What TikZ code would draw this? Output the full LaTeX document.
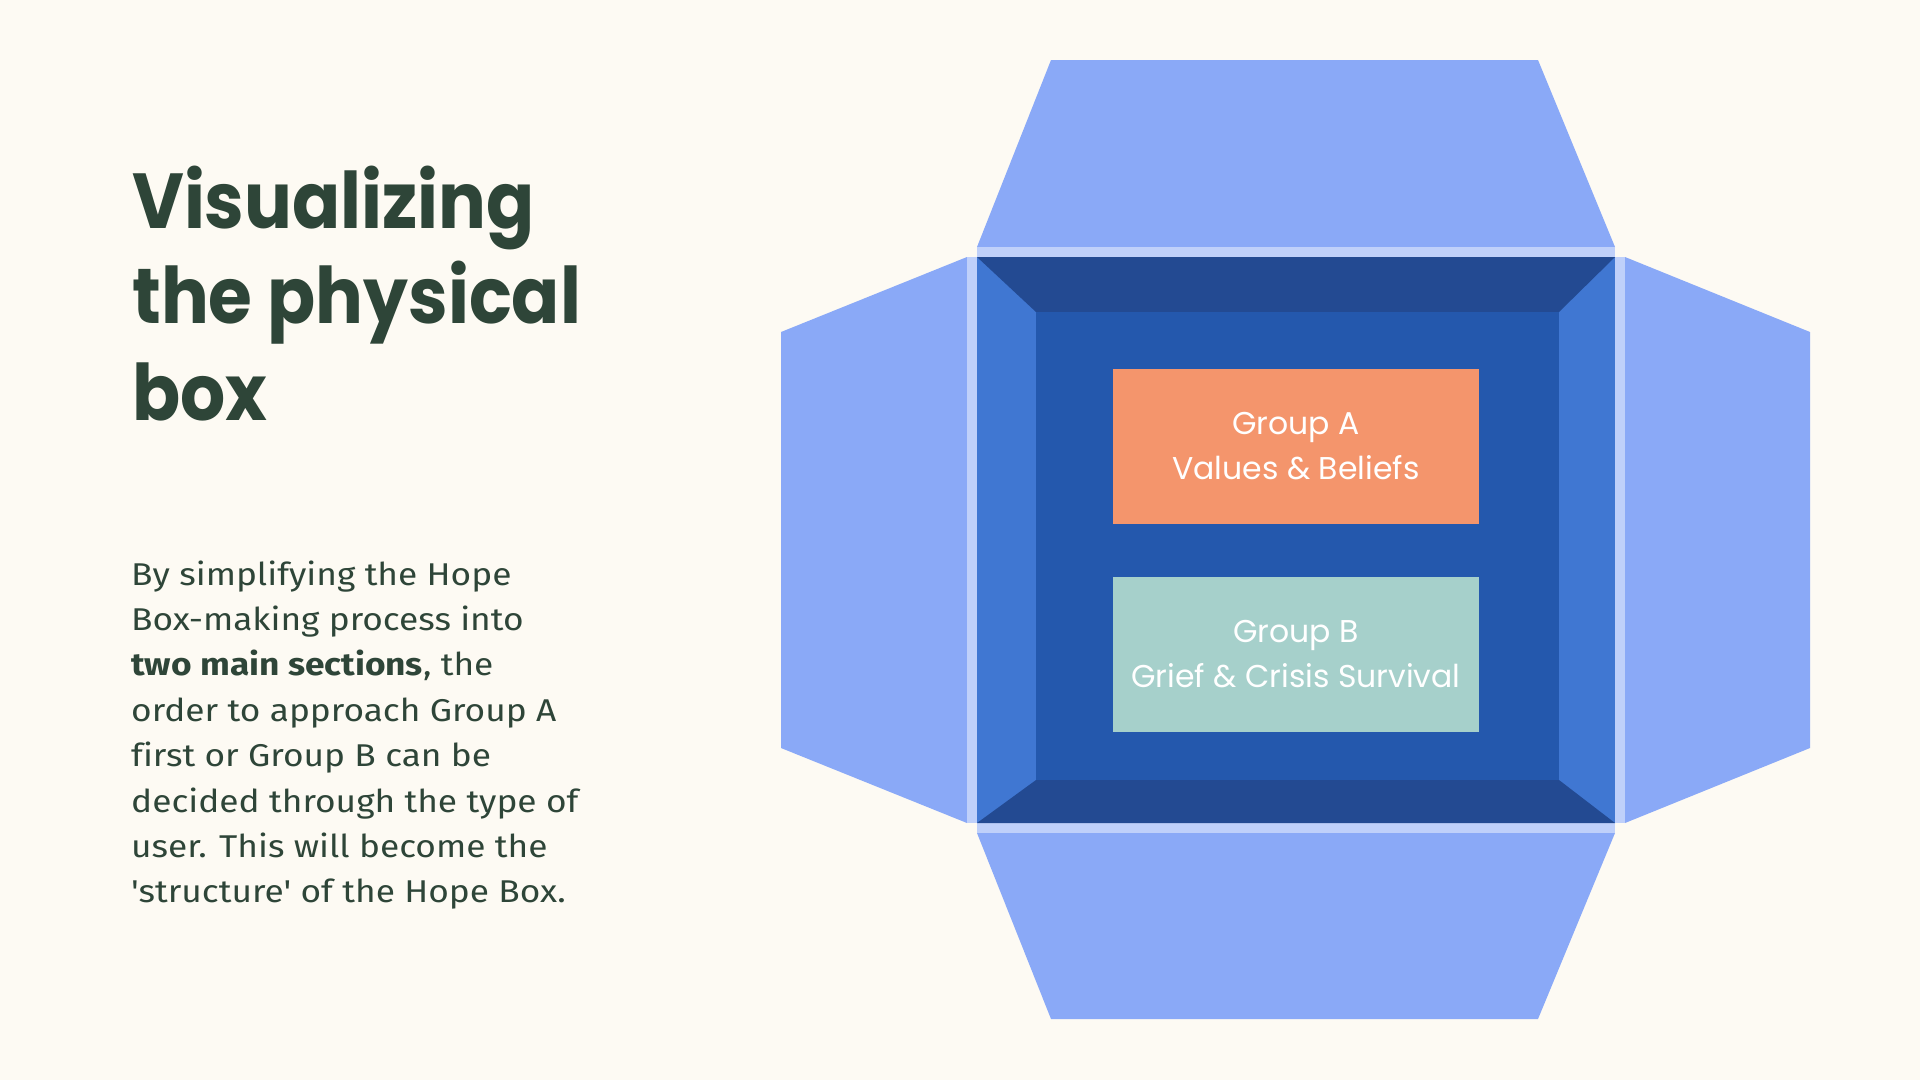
\documentclass[tikz,border=0pt]{standalone}
\usepackage{fontspec}
\setmainfont{Fira Sans}
\newfontfamily\titlefont{Poppins}[UprightFont=* Bold, FakeStretch=0.91]
\newfontfamily\boxfont{Poppins}
\newfontfamily\bodyfont{Fira Sans}[FakeStretch=1.12, Ligatures=NoCommon]
\definecolor{bgc}{HTML}{FDFAF3}
\definecolor{flapc}{HTML}{8AA9F7}
\definecolor{stripc}{HTML}{BFD0FA}
\definecolor{navyc}{HTML}{234A92}
\definecolor{sidec}{HTML}{4077D2}
\definecolor{innerc}{HTML}{2458AD}
\definecolor{orangec}{HTML}{F4956C}
\definecolor{tealc}{HTML}{A6D0CB}
\definecolor{inkc}{HTML}{2E4538}
\tikzset{
  flap/.style={fill=flapc},
  strip/.style={fill=stripc},
  grp/.style={minimum width=366pt, minimum height=155pt, inner sep=0pt, align=center,
    text=white, font=\boxfont\fontsize{31.5}{45}\selectfont},
  titleline/.style={anchor=base west, inner sep=0pt, text=inkc, font=\titlefont\fontsize{78}{96}\selectfont},
  bodyline/.style={anchor=base west, inner sep=0pt, text=inkc, font=\bodyfont\fontsize{31.5}{45}\selectfont}
}
\begin{document}
\begin{tikzpicture}[x=1pt,y=-1pt]
\useasboundingbox (0,0) rectangle (1920,1080);
\fill[bgc] (0,0) rectangle (1920,1080);
% flaps
\fill[flap] (977,247) -- (1051,60) -- (1538,60) -- (1615,247) -- cycle;
\fill[flap] (977,833) -- (1051,1019) -- (1538,1019) -- (1615,833) -- cycle;
\fill[flap] (967,257) -- (781,332) -- (781,748) -- (967,823) -- cycle;
\fill[flap] (1625,257) -- (1810,332) -- (1810,748) -- (1625,823) -- cycle;
% light strips
\fill[strip] (977,247) rectangle (1615,257);
\fill[strip] (977,823) rectangle (1615,833);
\fill[strip] (967,257) rectangle (977,823);
\fill[strip] (1615,257) rectangle (1625,823);
% box body
\fill[sidec] (977,257) rectangle (1615,823);
\fill[navyc] (977,257) -- (1615,257) -- (1559,312) -- (1036,312) -- cycle;
\fill[navyc] (977,823) -- (1615,823) -- (1559,780) -- (1036,780) -- cycle;
\fill[innerc] (1036,312) rectangle (1559,780);
% groups
\node[grp, fill=orangec] (ga) at (1296,446.5) {Group A\\Values \& Beliefs};
\node[grp, fill=tealc] (gb) at (1296,654.5) {Group B\\Grief \& Crisis Survival};
% title
\node[titleline] (t1) at (132,228) {Visualizing};
\node[titleline] (t2) at (132,323) {the physical};
\node[titleline] (t3) at (132,420) {box};
% body
\node[bodyline] (b1) at (131,585) {By simplifying the Hope};
\node[bodyline] (b2) at (131,630.4) {Box-making process into};
\node[bodyline] (b3) at (131,675.8) {\textbf{two main sections}, the};
\node[bodyline] (b4) at (131,721.2) {order to approach Group A};
\node[bodyline] (b5) at (131,766.6) {first or Group B can be};
\node[bodyline] (b6) at (131,812) {decided through the type of};
\node[bodyline] (b7) at (131,857.4) {user. This will become the};
\node[bodyline] (b8) at (131,902.8) {'structure' of the Hope Box.};
\end{tikzpicture}
\end{document}
